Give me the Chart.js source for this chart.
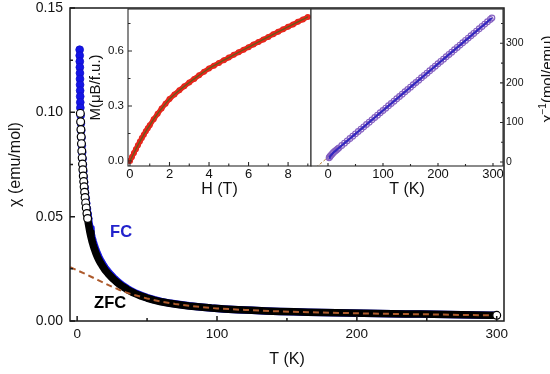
<!DOCTYPE html>
<html><head><meta charset="utf-8">
<script src="https://cdn.jsdelivr.net/npm/chart.js@4.4.1/dist/chart.umd.min.js"></script>
<style>
html,body{margin:0;padding:0;background:#fff;}
#wrap{position:relative;width:550px;height:374px;overflow:hidden;background:#fff;}
canvas{position:absolute;}
</style></head><body>
<div id="wrap">
<canvas id="main" width="550" height="374" style="left:0;top:0;width:550px;height:374px"></canvas>
<canvas id="ins1" width="240" height="200" style="left:80px;top:0;width:240px;height:200px"></canvas>
<canvas id="ins2" width="250" height="200" style="left:300px;top:0;width:250px;height:200px"></canvas>
</div>
<script>
// ---------- main chart: chi vs T ----------
const zfcT = [2.3,2.5,2.7,2.9,3.1,3.35,3.6,3.85,4.1,4.4,4.7,5.0,5.35,5.7,6.1,6.5,7.0,7.5,8.0,8.6,9.2,9.9,10.6,11.4,12.3,13.3,14.4,15.6,17,18.5,20,22,24,26,28,30,33,36,39,42,46,50,55,60,66,72,80,88,96,105,115,125,135,145,155,165,175,185,195,205,215,225,235,245,255,265,275,285,295,300];
const zfcChi = [0.0995,0.0955,0.0918,0.0883,0.0850,0.0815,0.0782,0.0752,0.0725,0.0695,0.0668,0.0643,0.0617,0.0592,0.0566,0.0542,0.0515,0.0491,0.0469,0.0446,0.0424,0.0403,0.0384,0.0365,0.0346,0.0327,0.0309,0.0292,0.0275,0.0259,0.0244,0.0228,0.0213,0.0200,0.0188,0.0177,0.0163,0.0150,0.0139,0.0130,0.0119,0.0110,0.0100,0.0092,0.0085,0.0079,0.0072,0.0067,0.0062,0.0058,0.0054,0.0051,0.0048,0.0046,0.0044,0.0042,0.0041,0.0039,0.0038,0.0037,0.0036,0.0035,0.0034,0.0033,0.0032,0.0031,0.0030,0.0029,0.0028,0.0027];
const fcT = [1.80,1.85,1.90,1.95,2.00,2.05,2.10,2.15,2.20,2.25,2.30,2.50,2.70,2.90,3.10,3.35,3.60,3.85,4.10,4.40,4.70,5.00,5.35,5.70,6.10,6.50,7.00,7.50,8.00,8.60,9.20,9.90,10.6,11.4,12.3,13.3,14.4,15.6,17,18.5,20,22,24,26,28,30,33,36,39,42,46,50,55,60,66,72,80,88,96,105,115,125,135,145,155,165,175,185,195,205,215,225,235,245,255,265,275,285,295,300];
const fcChi = [0.1300,0.1272,0.1244,0.1216,0.1188,0.1160,0.1132,0.1104,0.1076,0.1048,0.1022,0.0985,0.0948,0.0912,0.0878,0.0842,0.0808,0.0777,0.0749,0.0718,0.0690,0.0665,0.0639,0.0614,0.0588,0.0564,0.0537,0.0513,0.0491,0.0467,0.0445,0.0423,0.0403,0.0383,0.0363,0.0343,0.0324,0.0306,0.0288,0.0271,0.0255,0.0238,0.0222,0.0208,0.0195,0.0183,0.0168,0.0155,0.0143,0.0133,0.0122,0.0112,0.0102,0.0094,0.0086,0.0080,0.0073,0.0067,0.0062,0.0058,0.0054,0.0051,0.0048,0.0046,0.0044,0.0042,0.0041,0.0039,0.0038,0.0037,0.0036,0.0035,0.0034,0.0033,0.0032,0.0031,0.0030,0.0029,0.0028,0.0027];
const fitT = [-5,0,5,10,15,20,25,30,35,40,50,60,70,80,90,100,120,140,160,180,200,225,250,275,295];
const fitChi = [0.0258,0.0243,0.0228,0.0212,0.0196,0.0180,0.0164,0.0150,0.0137,0.0126,0.0108,0.0093,0.0082,0.0073,0.0066,0.0060,0.0053,0.0047,0.0043,0.0040,0.0037,0.0034,0.0032,0.0029,0.0027];
const mainXTicks = [0,100,200,300];
const mainXMinor = [50,150,250];
const mainYTicks = [0,0.05,0.10,0.15];
const mainYTickLabels = ['0.00','0.05','0.10','0.15'];
const mainYMinor = [0.025,0.075,0.125];

// ---------- inset 1: M vs H ----------
const magH = [0,0.1,0.2,0.3,0.4,0.5,0.6,0.7,0.8,0.9,1.0,1.2,1.4,1.6,1.8,2.0,2.25,2.5,2.75,3.0,3.25,3.5,3.75,4.0,4.25,4.5,4.75,5.0,5.25,5.5,5.75,6.0,6.25,6.5,6.75,7.0,7.25,7.5,7.75,8.0,8.25,8.5,8.75,9.0];
const magM = [0,0.022,0.044,0.065,0.086,0.106,0.125,0.144,0.162,0.179,0.195,0.228,0.258,0.286,0.313,0.338,0.363,0.386,0.408,0.428,0.448,0.468,0.487,0.505,0.520,0.535,0.550,0.564,0.579,0.593,0.607,0.621,0.635,0.649,0.663,0.677,0.691,0.705,0.718,0.732,0.745,0.759,0.772,0.786];
const ins1XTicks = [0,2,4,6,8];
const ins1XMinor = [1,3,5,7,9];
const ins1YTicks = [0,0.3,0.6];
const ins1YTickLabels = ['0.0','0.3','0.6'];
const ins1YMinor = [0.15,0.45,0.75];

// ---------- inset 2: 1/chi vs T ----------
const invT = [2,3,4,6,8,10,12.5,15,17.5,20,25,30,35,40,45,50,55,60,65,70,75,80,85,90,95,100,105,110,115,120,125,130,135,140,145,150,155,160,165,170,175,180,185,190,195,200,205,210,215,220,225,230,235,240,245,250,255,260,265,270,275,280,285,290,295,298];
const invChi = [10.5,12.5,14.5,18,21,24,27.1,30,32.9,35.8,41.7,47.6,53.5,59.4,65.3,71.2,77.1,83,88.9,94.8,100.7,106.6,112.5,118.4,124.3,130.2,136.1,142,147.9,153.8,159.7,165.6,171.5,177.4,183.3,189.2,195.1,201,206.9,212.8,218.7,224.6,230.5,236.4,242.3,248.2,254.1,260,265.9,271.8,277.7,283.6,289.5,295.4,301.3,307.2,313.1,319,324.9,330.8,336.7,342.6,348.5,354.4,360.3,364];
const cwT = [-22,300];
const cwVal = [-14,366];
const ins2XTicks = [0,100,200,300];
const ins2XMinor = [50,150,250];
const ins2YTicks = [0,100,200,300];
const ins2YMinor = [50,150,250,350];

// ---------- helpers ----------
const FONT = "'Liberation Sans', Arial, Helvetica, sans-serif";
Chart.defaults.font.family = FONT;
Chart.defaults.color = '#111';
const pts = (xs, ys) => xs.map((x, i) => ({x: x, y: ys[i]}));

function deco(cfg) {
  return {
    id: 'deco',
    beforeDraw(chart) {
      if (!cfg.fill) return;
      const a = chart.chartArea, c = chart.ctx;
      c.save(); c.fillStyle = '#fff';
      c.fillRect(a.left, a.top, a.right - a.left, a.bottom - a.top);
      c.restore();
    },
    afterDatasetsDraw(chart) {
      const c = chart.ctx, a = chart.chartArea, xs = chart.scales.x, ys = chart.scales.y;
      c.save();
      c.strokeStyle = cfg.color; c.lineWidth = cfg.lw;
      c.beginPath();
      const xt = (vals, len) => vals.forEach(v => { const p = xs.getPixelForValue(v); c.moveTo(p, a.bottom); c.lineTo(p, a.bottom - len); });
      const yt = (vals, len) => vals.forEach(v => { const p = ys.getPixelForValue(v);
        if (cfg.yRight) { c.moveTo(a.right, p); c.lineTo(a.right - len, p); }
        else { c.moveTo(a.left, p); c.lineTo(a.left + len, p); } });
      xt(cfg.xMajor, cfg.len); xt(cfg.xMinor, cfg.minLen);
      yt(cfg.yMajor, cfg.len); yt(cfg.yMinor, cfg.minLen);
      c.stroke();
      c.strokeRect(a.left, a.top, a.right - a.left, a.bottom - a.top);
      c.restore();
    }
  };
}
const setTicks = vals => s => { s.ticks = vals.map(v => ({value: v})); };

// ---------- main chart ----------
const lastZ = zfcT.length - 1;
new Chart(document.getElementById('main'), {
  type: 'scatter',
  data: { datasets: [
    { label: 'fit', data: pts(fitT, fitChi), showLine: true, borderColor: '#ad5a2c', borderWidth: 2,
      borderDash: [6, 4], pointRadius: 0, order: 0 },
    { label: 'ZFC', data: pts(zfcT, zfcChi), showLine: true, borderColor: '#000', borderWidth: 7.5,
      borderCapStyle: 'round', borderJoinStyle: 'round',
      segment: { borderColor: ctx => ctx.p0.parsed.y > 0.052 ? 'rgba(0,0,0,0)' : '#000' },
      pointRadius: ctx => (ctx.raw && (ctx.raw.y > 0.049 || ctx.dataIndex === lastZ)) ? 3.9 : 0,
      pointBackgroundColor: '#fff', pointBorderColor: '#000', pointBorderWidth: 1.2, order: 1 },
    { label: 'FC', data: pts(fcT, fcChi), showLine: true, borderColor: '#1414e6', borderWidth: 7.5,
      borderCapStyle: 'round', borderJoinStyle: 'round',
      segment: { borderColor: ctx => ctx.p0.parsed.y > 0.052 ? 'rgba(0,0,0,0)' : '#1414e6' },
      pointRadius: ctx => (ctx.raw && ctx.raw.y > 0.049) ? 3.9 : 0,
      pointBackgroundColor: '#1414e6', pointBorderColor: '#1010c8', pointBorderWidth: 0.8, order: 2 }
  ]},
  options: {
    responsive: false, animation: false, events: [],
    layout: { padding: { left: 0, top: 8, right: 46, bottom: 0 } },
    plugins: { legend: { display: false }, tooltip: { enabled: false } },
    scales: {
      x: { type: 'linear', min: -5.1, max: 305.2,
        grid: { display: false, drawTicks: false }, border: { display: false },
        afterBuildTicks: setTicks(mainXTicks),
        afterFit: s => { s.height = 53; s.paddingLeft = 0; s.paddingRight = 0; },
        ticks: { font: { size: 13.5 }, padding: 5, color: '#111', callback: v => String(v) },
        title: { display: true, text: 'T (K)', font: { size: 16 }, color: '#111', padding: { top: 0, bottom: 5 } } },
      y: { type: 'linear', min: 0, max: 0.15,
        grid: { display: false, drawTicks: false }, border: { display: false },
        afterBuildTicks: setTicks(mainYTicks),
        afterFit: s => { s.width = 70; s.paddingTop = 0; s.paddingBottom = 0; },
        ticks: { font: { size: 14 }, padding: 7, color: '#111', callback: (v, i) => mainYTickLabels[i] },
        title: { display: true, text: 'χ (emu/mol)', font: { size: 16 }, color: '#111', padding: { top: 6, bottom: 0 } } }
    }
  },
  plugins: [deco({ fill: false, color: '#1a1a1a', lw: 1.5, len: 5, minLen: 3,
      xMajor: mainXTicks, xMinor: mainXMinor, yMajor: mainYTicks, yMinor: mainYMinor }),
    { id: 'labels', afterDraw(chart) {
        const c = chart.ctx, xs = chart.scales.x, ys = chart.scales.y;
        c.save(); c.font = 'bold 16.5px ' + FONT; c.textAlign = 'center'; c.textBaseline = 'middle';
        c.fillStyle = '#2222cc'; c.fillText('FC', xs.getPixelForValue(31.4), ys.getPixelForValue(0.0422));
        c.fillStyle = '#000'; c.fillText('ZFC', xs.getPixelForValue(23.6), ys.getPixelForValue(0.0086));
        c.restore(); } }]
});

// ---------- inset 1 ----------
new Chart(document.getElementById('ins1'), {
  type: 'scatter',
  data: { datasets: [
    { label: 'fit', data: pts(magH, magM), showLine: true, borderColor: 'rgba(70,105,25,0.8)', borderWidth: 1.3,
      pointRadius: 0, order: 0 },
    { label: 'M', data: pts(magH, magM), showLine: true, borderColor: '#e8261c', borderWidth: 5,
      pointRadius: 3, pointBackgroundColor: '#e8261c', pointBorderWidth: 0, order: 1 }
  ]},
  options: {
    responsive: false, animation: false, events: [],
    layout: { padding: { left: 0, top: 9, right: 9, bottom: 0 } },
    plugins: { legend: { display: false }, tooltip: { enabled: false } },
    scales: {
      x: { type: 'linear', min: -0.1, max: 9.16,
        grid: { display: false, drawTicks: false }, border: { display: false },
        afterBuildTicks: setTicks(ins1XTicks),
        afterFit: s => { s.height = 34; s.paddingLeft = 0; s.paddingRight = 0; },
        ticks: { font: { size: 13 }, padding: 1, color: '#111', callback: v => String(v) },
        title: { display: true, text: 'H (T)', font: { size: 16 }, color: '#111', padding: { top: 0, bottom: 1 } } },
      y: { type: 'linear', min: -0.027, max: 0.829,
        grid: { display: false, drawTicks: false }, border: { display: false },
        afterBuildTicks: setTicks(ins1YTicks),
        afterFit: s => { s.width = 48; s.paddingTop = 0; s.paddingBottom = 0; },
        ticks: { font: { size: 11.5 }, padding: 4, color: '#111', callback: (v, i) => ins1YTickLabels[i] },
        title: { display: true, text: 'M(μB/f.u.)', font: { size: 15 }, color: '#111', padding: { top: 7, bottom: 0 } } }
    }
  },
  plugins: [deco({ fill: true, color: '#2a2a2a', lw: 1.1, len: 4, minLen: 2.5,
      xMajor: ins1XTicks, xMinor: ins1XMinor, yMajor: ins1YTicks, yMinor: ins1YMinor })]
});

// ---------- inset 2 ----------
new Chart(document.getElementById('ins2'), {
  type: 'scatter',
  data: { datasets: [
    { label: 'line', data: pts(invT, invChi), showLine: true, borderColor: 'rgba(45,35,190,0.95)', borderWidth: 2.2,
      pointRadius: 0, order: 0 },
    { label: 'inv', data: pts(invT, invChi), showLine: false, pointRadius: 2.9,
      pointBackgroundColor: 'rgba(255,255,255,0)', pointBorderColor: '#8560c0', pointBorderWidth: 1.1, order: 1 },
    { label: 'CW', data: pts(cwT, cwVal), showLine: true, borderColor: '#b8843c', borderWidth: 1,
      borderDash: [3, 2], pointRadius: 0, order: 2 }
  ]},
  options: {
    responsive: false, animation: false, events: [],
    layout: { padding: { left: 11, top: 9, right: 0, bottom: 0 } },
    plugins: { legend: { display: false }, tooltip: { enabled: false } },
    scales: {
      x: { type: 'linear', min: -30.9, max: 318.2,
        grid: { display: false, drawTicks: false }, border: { display: false },
        afterBuildTicks: setTicks(ins2XTicks),
        afterFit: s => { s.height = 34; s.paddingLeft = 0; s.paddingRight = 0; },
        ticks: { font: { size: 13 }, padding: 1, color: '#111', callback: v => String(v) },
        title: { display: true, text: 'T (K)', font: { size: 16 }, color: '#111', padding: { top: 0, bottom: 1 } } },
      y: { type: 'linear', position: 'right', min: -10.1, max: 386.7,
        grid: { display: false, drawTicks: false }, border: { display: false },
        afterBuildTicks: setTicks(ins2YTicks),
        afterFit: s => { s.width = 47; s.paddingTop = 0; s.paddingBottom = 0; },
        ticks: { font: { size: 10.5 }, padding: 3, color: '#111', callback: v => String(v) } }
    }
  },
  plugins: [deco({ fill: true, yRight: true, color: '#2a2a2a', lw: 1.1, len: 3, minLen: 2,
      xMajor: ins2XTicks, xMinor: ins2XMinor, yMajor: ins2YTicks, yMinor: ins2YMinor }),
    { id: 'rtitle', afterDraw(chart) {
        const c = chart.ctx;
        const big = '15px ' + FONT, small = '10px ' + FONT;
        c.save(); c.translate(247, 79); c.rotate(-Math.PI / 2);
        c.fillStyle = '#111'; c.textBaseline = 'alphabetic'; c.textAlign = 'left';
        c.font = big; const w1 = c.measureText('χ').width, w3 = c.measureText('(mol/emu)').width;
        c.font = small; const w2 = c.measureText('−1').width;
        let x = -(w1 + w2 + w3) / 2; const base = 5;
        c.font = big; c.fillText('χ', x, base); x += w1;
        c.font = small; c.fillText('−1', x, base - 6); x += w2;
        c.font = big; c.fillText('(mol/emu)', x, base);
        c.restore(); } }]
});
</script>
</body></html>
